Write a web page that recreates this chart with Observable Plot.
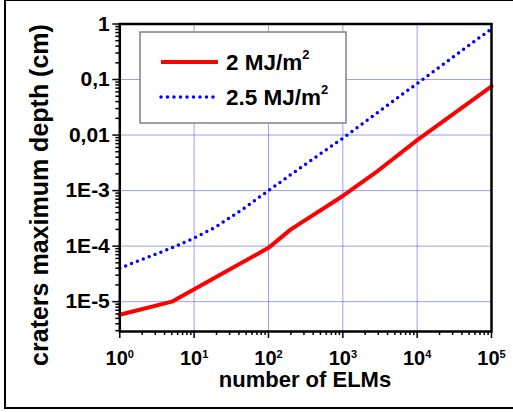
<!DOCTYPE html>
<html><head><meta charset="utf-8">
<script src="https://cdn.jsdelivr.net/npm/d3@7"></script>
<script src="https://cdn.jsdelivr.net/npm/@observablehq/plot@0.6"></script>
<style>
html,body{margin:0;padding:0;background:#fff;}
body{width:513px;height:412px;overflow:hidden;position:relative;font-family:"Liberation Sans",Arial,sans-serif;font-weight:bold;}
#outer{position:absolute;left:4px;top:-1px;width:540px;height:410px;border:2px solid #000;box-sizing:border-box;}
#chart{position:absolute;left:0;top:0;}
#overlay{position:absolute;left:0;top:0;}
</style></head>
<body>
<div id="outer"></div>
<div id="chart"></div>
<svg id="overlay" width="513" height="412"></svg>
<script>
// ---- data ----
const seriesNames = ["2 MJ/m", "2.5 MJ/m"];
const xRed = [1, 5, 100, 200, 1000, 3000, 10000, 100000];
const yRed = [5.8e-6, 1e-5, 9.3e-5, 2e-4, 8e-4, 2.3e-3, 8.1e-3, 0.075];
const xBlue = [1, 5, 10, 20, 50, 100, 250, 1000, 10000, 100000];
const yBlue = [4e-5, 9.3e-5, 1.4e-4, 2.25e-4, 5.1e-4, 1e-3, 2.4e-3, 8.8e-3, 0.085, 0.82];
const xTicks = [1, 10, 100, 1000, 10000, 100000];
const xTickBase = "10";
const xTickExp = ["0", "1", "2", "3", "4", "5"];
const yTicks = [1e-5, 1e-4, 1e-3, 0.01, 0.1, 1];
const yTickLabels = ["1E-5", "1E-4", "1E-3", "0,01", "0,1", "1"];
const xLabel = "number of ELMs";
const yLabel = "craters maximum depth (cm)";

const xMinor = [];
for (let e = 0; e < 5; e++) for (let k = 2; k <= 9; k++) xMinor.push(k * 10 ** e);
const yMinor = [];
for (let e = -6; e < 0; e++) for (let k = 2; k <= 9; k++) { const v = k * 10 ** e; if (v >= 2.9e-6 && v < 1) yMinor.push(v); }

const gridStyle = {stroke: "#4d4dff", strokeOpacity: 0.55, strokeWidth: 1};

const plot = Plot.plot({
  width: 513, height: 412,
  marginLeft: 119.3, marginRight: 22, marginTop: 23.5, marginBottom: 81,
  style: {background: "transparent", fontFamily: "'Liberation Sans', Arial, sans-serif", fontSize: "21px", fontWeight: "bold", color: "#000"},
  x: {type: "log", domain: [1, 1e5]},
  y: {type: "log", domain: [2.9e-6, 1]},
  marks: [
    Plot.gridX(xTicks, gridStyle),
    Plot.gridY(yTicks, gridStyle),
    Plot.line(xRed, {x: xRed, y: yRed, stroke: "#ff0000", strokeWidth: 4}),
    Plot.line(xBlue, {x: xBlue, y: yBlue, stroke: "#0000ff", strokeWidth: 3.5, strokeDasharray: "0 6.3", strokeLinecap: "round"}),
    Plot.axisX(xMinor, {tickSize: 4, tickFormat: () => "", label: null, strokeWidth: 1.5}),
    Plot.axisX(xTicks, {tickSize: 7, tickPadding: 12, tickFormat: d => xTickBase + "^" + xTickExp[xTicks.indexOf(d)], label: null, strokeWidth: 1.5, fontSize: 20}),
    Plot.axisY(yMinor, {tickSize: 4, tickFormat: () => "", label: null, strokeWidth: 1.5}),
    Plot.axisY(yTicks, {tickSize: 7, tickPadding: 3, tickFormat: d => yTickLabels[yTicks.indexOf(d)], label: null, strokeWidth: 1.5, fontSize: 21}),
    Plot.frame({stroke: "#000", strokeWidth: 2.5})
  ]
});
document.getElementById("chart").appendChild(plot);

// superscript exponents on the x tick labels
d3.select(plot).selectAll("text").each(function() {
  const s = this.textContent;
  if (s.includes("^")) {
    const [b, e] = s.split("^");
    const t = d3.select(this);
    t.text(null);
    t.append("tspan").text(b);
    t.append("tspan").attr("font-size", 11).attr("dy", "-0.65em").text(e);
  }
});

// ---- overlay: axis titles and legend ----
const ov = d3.select("#overlay");
ov.append("text").attr("x", 305).attr("y", 387).attr("text-anchor", "middle")
  .attr("font-size", 22).attr("font-weight", "bold").text(xLabel);
ov.append("text").attr("transform", "translate(48,195) rotate(-90)").attr("text-anchor", "middle")
  .attr("font-size", 25).attr("font-weight", "bold").text(yLabel);

const lg = ov.append("g").attr("transform", "translate(140,32)");
lg.append("rect").attr("x", 0).attr("y", 0).attr("width", 206).attr("height", 91)
  .attr("fill", "#fff").attr("stroke", "#808080").attr("stroke-width", 1.5);
const colors = ["#ff0000", "#0000ff"];
seriesNames.forEach((name, i) => {
  const yy = 30 + i * 35;
  const ln = lg.append("line").attr("x1", 21).attr("x2", 78).attr("y1", yy).attr("y2", yy).attr("stroke", colors[i]);
  if (i === 0) ln.attr("stroke-width", 4);
  else ln.attr("stroke-width", 3.5).attr("stroke-dasharray", "0 6.5").attr("stroke-linecap", "round");
  const t = lg.append("text").attr("x", 86).attr("y", yy + 7.5).attr("font-size", 22.5).attr("font-weight", "bold");
  t.append("tspan").text(name);
  t.append("tspan").attr("font-size", 13).attr("dy", -11).text("2");
});
</script>
</body></html>
